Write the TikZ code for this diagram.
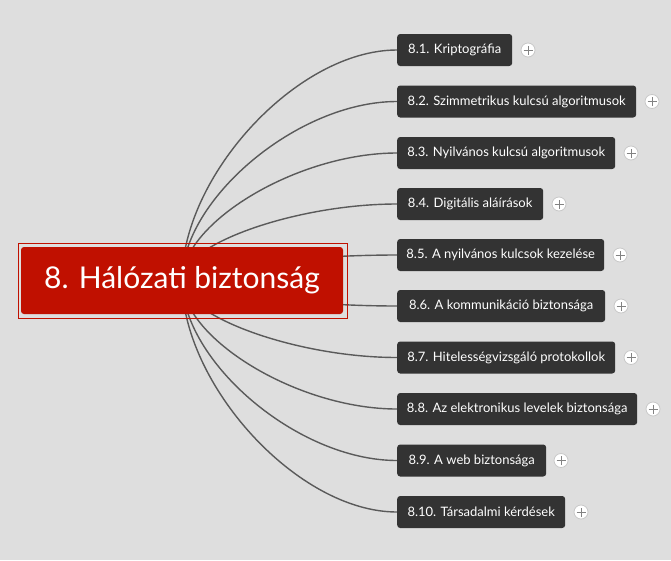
\documentclass[tikz,border=0pt]{standalone}
\usepackage{fontspec}
\setmainfont{Lato}
\pgfdeclarelayer{bg}
\pgfsetlayers{bg,main}
\definecolor{bgc}{RGB}{222,222,222}
\definecolor{boxc}{RGB}{51,51,51}
\definecolor{redc}{RGB}{192,16,0}
\definecolor{linec}{RGB}{90,90,90}
\definecolor{plusc}{RGB}{130,130,130}
\definecolor{shadc}{RGB}{200,200,200}
\tikzset{
  topic/.style={rectangle, rounded corners=3pt, fill=boxc, text=white, anchor=west,
    minimum height=32pt, inner xsep=0pt, font=\fontsize{13}{15}\selectfont},
  plusbtn/.style={circle, fill=white, draw=shadc, line width=0.8pt, minimum size=14pt, inner sep=0pt,
    path picture={\draw[plusc, line width=1pt]
      ([xshift=-4.5pt]path picture bounding box.center) -- ([xshift=4.5pt]path picture bounding box.center)
      ([yshift=-4.5pt]path picture bounding box.center) -- ([yshift=4.5pt]path picture bounding box.center);}},
  conn/.style={linec, line width=1.4pt},
}
\begin{document}
\begin{tikzpicture}[x=1pt,y=-1pt]
\useasboundingbox (0,0) rectangle (671,560);
\coordinate (hub) at (182,280);
\node[rectangle, draw=redc, line width=1pt, minimum width=329pt, minimum height=75pt] (frame) at (182.5,280.5) {};
\node[rectangle, rounded corners=3pt, fill=redc, text=white, minimum width=322pt, minimum height=67pt,
  font=\fontsize{30}{34}\selectfont] (main) at (182,280.5) {8. Hálózati biztonság};
% topics
\node[topic, minimum width=115pt] (n1) at (397,50) {8.1. Kriptográfia};
\node[topic, minimum width=239pt] (n2) at (397,101.5) {8.2. Szimmetrikus kulcsú algoritmusok};
\node[topic, minimum width=218pt] (n3) at (397,153) {8.3. Nyilvános kulcsú algoritmusok};
\node[topic, minimum width=146pt] (n4) at (397,204) {8.4. Digitális aláírások};
\node[topic, minimum width=207pt] (n5) at (397,255) {8.5. A nyilvános kulcsok kezelése};
\node[topic, minimum width=208pt] (n6) at (397,306) {8.6. A kommunikáció biztonsága};
\node[topic, minimum width=218pt] (n7) at (397,357.5) {8.7. Hitelességvizsgáló protokollok};
\node[topic, minimum width=240pt] (n8) at (397,409) {8.8. Az elektronikus levelek biztonsága};
\node[topic, minimum width=149pt] (n9) at (397,460.5) {8.9. A web biztonsága};
\node[topic, minimum width=168pt] (n10) at (397,512) {8.10. Társadalmi kérdések};
% plus buttons
\node[plusbtn] (p1) at (528,50) {};
\node[plusbtn] (p2) at (652,101.5) {};
\node[plusbtn] (p3) at (631,153) {};
\node[plusbtn] (p4) at (559,204) {};
\node[plusbtn] (p5) at (620,255) {};
\node[plusbtn] (p6) at (621,306) {};
\node[plusbtn] (p7) at (631,357.5) {};
\node[plusbtn] (p8) at (653,409) {};
\node[plusbtn] (p9) at (561,460.5) {};
\node[plusbtn] (p10) at (581,512) {};
% background and connectors
\begin{pgfonlayer}{bg}
\fill[bgc] (0,0) rectangle (671,560);
\draw[conn] (hub) .. controls +(0,-104) and +(-100,0) .. (n1.west);
\draw[conn] (hub) .. controls +(0,-80) and +(-100,0) .. (n2.west);
\draw[conn] (hub) .. controls +(0,-57) and +(-100,0) .. (n3.west);
\draw[conn] (hub) .. controls +(0,-36) and +(-100,0) .. (n4.west);
\draw[conn] (hub) .. controls +(0,-11) and +(-100,0) .. (n5.west);
\draw[conn] (hub) .. controls +(0,11) and +(-100,0) .. (n6.west);
\draw[conn] (hub) .. controls +(0,36) and +(-100,0) .. (n7.west);
\draw[conn] (hub) .. controls +(0,58) and +(-100,0) .. (n8.west);
\draw[conn] (hub) .. controls +(0,81) and +(-100,0) .. (n9.west);
\draw[conn] (hub) .. controls +(0,104) and +(-100,0) .. (n10.west);
\end{pgfonlayer}
\end{tikzpicture}
\end{document}
